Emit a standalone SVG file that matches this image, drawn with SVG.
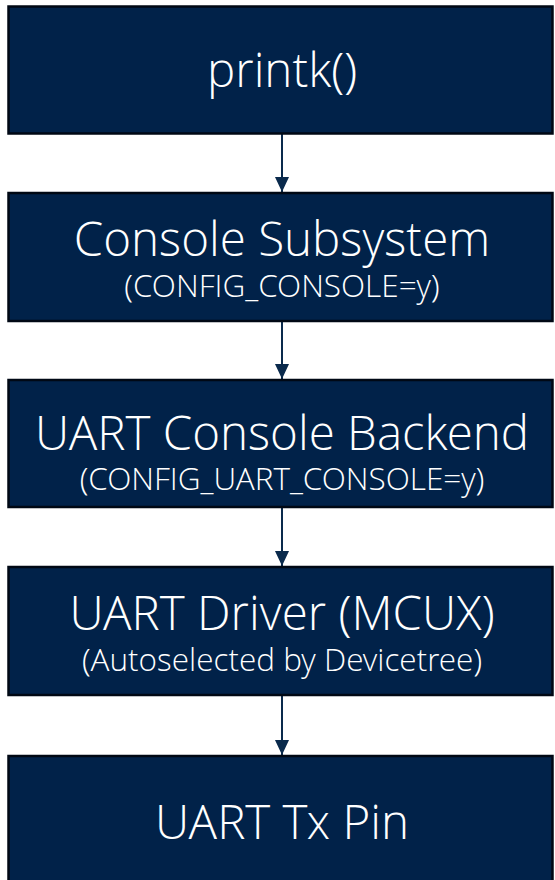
<svg xmlns="http://www.w3.org/2000/svg" width="555" height="880" viewBox="0 0 555 880">
<defs>
<style>
.box{fill:#012249;stroke:#000814;stroke-width:2.5}
.t{font-family:"Open Sans Light","Open Sans","Noto Sans",sans-serif;font-weight:300;fill:#ffffff;text-anchor:middle}
.big{font-size:47.5px}
.sm{font-size:31.5px}
.conn{stroke:#0a2a4c;stroke-width:2;fill:none}
</style>
<marker id="ah" viewBox="0 0 15 14" refX="15" refY="7" markerWidth="15" markerHeight="14" markerUnits="userSpaceOnUse" orient="auto">
<path d="M0,0 L15,7 L0,14 Z" fill="#0a2a4c"/>
</marker>
</defs>
<rect width="555" height="880" fill="#ffffff"/>
<g id="connectors">
<line class="conn" x1="282" y1="134" x2="282" y2="192" marker-end="url(#ah)"/>
<line class="conn" x1="282" y1="321" x2="282" y2="379" marker-end="url(#ah)"/>
<line class="conn" x1="282" y1="508" x2="282" y2="566" marker-end="url(#ah)"/>
<line class="conn" x1="282" y1="695" x2="282" y2="755" marker-end="url(#ah)"/>
</g>
<g id="node-printk">
<rect class="box" x="8.5" y="6.5" width="544" height="127"/>
<text class="t big" x="282" y="87">printk()</text>
</g>
<g id="node-console">
<rect class="box" x="8.5" y="193" width="544" height="128"/>
<text class="t big" x="282" y="256">Console Subsystem</text>
<text class="t sm" x="282" y="297">(CONFIG_CONSOLE=y)</text>
</g>
<g id="node-uart-console">
<rect class="box" x="8.5" y="380" width="544" height="127"/>
<text class="t big" x="282" y="450">UART Console Backend</text>
<text class="t sm" x="282" y="490">(CONFIG_UART_CONSOLE=y)</text>
</g>
<g id="node-uart-driver">
<rect class="box" x="8.5" y="567" width="544" height="128"/>
<text class="t big" x="282" y="630">UART Driver (MCUX)</text>
<text class="t sm" x="282" y="671">(Autoselected by Devicetree)</text>
</g>
<g id="node-tx-pin">
<rect class="box" x="8.5" y="756" width="544" height="130"/>
<text class="t big" x="282" y="839">UART Tx Pin</text>
</g>
</svg>
